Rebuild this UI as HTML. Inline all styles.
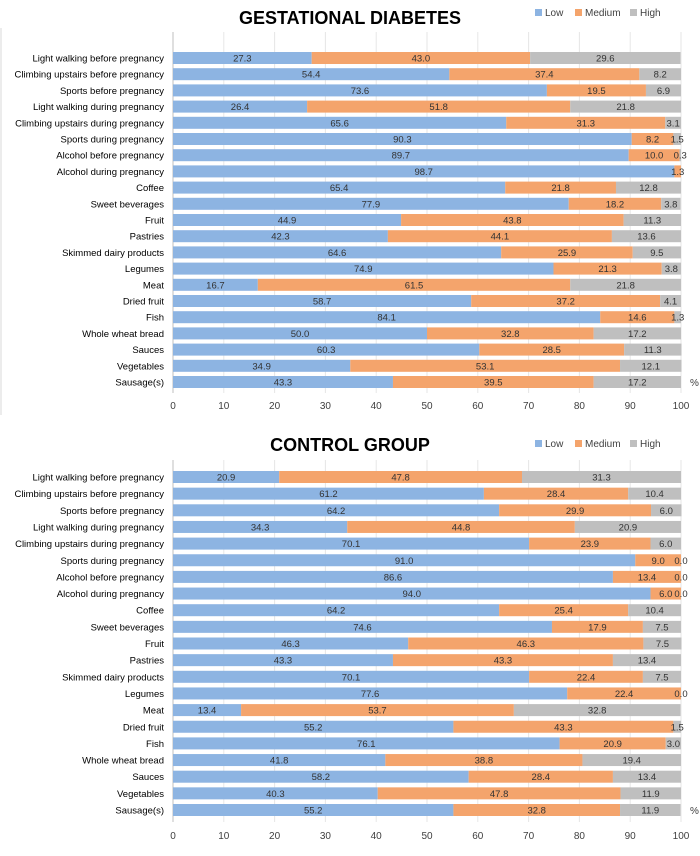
<!DOCTYPE html>
<html><head><meta charset="utf-8"><style>
body{margin:0;background:#fff;width:700px;height:851px;overflow:hidden}
svg text{font-family:"Liberation Sans",sans-serif}
</style></head><body>
<svg id="svg" width="700" height="851" xmlns="http://www.w3.org/2000/svg">
<line x1="1" y1="28" x2="1" y2="415" stroke="#d9d9d9"/>
</svg>
<script>
const categories=["Light walking before pregnancy","Climbing upstairs before pregnancy","Sports before pregnancy","Light walking during pregnancy","Climbing upstairs during pregnancy","Sports during pregnancy","Alcohol before pregnancy","Alcohol during pregnancy","Coffee","Sweet beverages","Fruit","Pastries","Skimmed dairy products","Legumes","Meat","Dried fruit","Fish","Whole wheat bread","Sauces","Vegetables","Sausage(s)"];
const gdLow=[27.3,54.4,73.6,26.4,65.6,90.3,89.7,98.7,65.4,77.9,44.9,42.3,64.6,74.9,16.7,58.7,84.1,50.0,60.3,34.9,43.3];
const gdMed=[43.0,37.4,19.5,51.8,31.3,8.2,10.0,1.3,21.8,18.2,43.8,44.1,25.9,21.3,61.5,37.2,14.6,32.8,28.5,53.1,39.5];
const gdHigh=[29.6,8.2,6.9,21.8,3.1,1.5,0.3,0.0,12.8,3.8,11.3,13.6,9.5,3.8,21.8,4.1,1.3,17.2,11.3,12.1,17.2];
const cgLow=[20.9,61.2,64.2,34.3,70.1,91.0,86.6,94.0,64.2,74.6,46.3,43.3,70.1,77.6,13.4,55.2,76.1,41.8,58.2,40.3,55.2];
const cgMed=[47.8,28.4,29.9,44.8,23.9,9.0,13.4,6.0,25.4,17.9,46.3,43.3,22.4,22.4,53.7,43.3,20.9,38.8,28.4,47.8,32.8];
const cgHigh=[31.3,10.4,6.0,20.9,6.0,0.0,0.0,0.0,10.4,7.5,7.5,13.4,7.5,0.0,32.8,1.5,3.0,19.4,13.4,11.9,11.9];
const xTicks=[0,10,20,30,40,50,60,70,80,90,100];
const seriesNames=["Low","Medium","High"];
const colors=["#8db4e2","#f4a46c","#bfbfbf"];
const svg=document.getElementById('svg');
const NS="http://www.w3.org/2000/svg";
function mk(t,a,txt){const e=document.createElementNS(NS,t);for(const k in a)e.setAttribute(k,a[k]);if(txt!==undefined)e.textContent=txt;svg.appendChild(e);return e;}
const X0=173,X1=681;
const xs=v=>X0+(X1-X0)*v/100;
function panel(title,titleY,legY,axTop,firstY,step,axBot,tickY,low,med,high,pre){
  let e=mk('text',{x:350,y:titleY,'text-anchor':'middle','font-size':'18','font-weight':'bold',fill:'#000'},title);
  
  
  let lx=[535,575,630];
  seriesNames.forEach((n,i)=>{
    let r=mk('rect',{x:lx[i],y:legY-6,width:7,height:7,fill:colors[i]});
    
    
    let t=mk('text',{x:lx[i]+10,y:legY+1,'font-size':'10',fill:'#404040'},n);
    
    
  });
  xTicks.forEach(v=>{
    if(v>0){let g=mk('line',{x1:xs(v),x2:xs(v),y1:axTop,y2:axBot,stroke:'#e6e6e6'});
    
    }
    let t=mk('text',{x:xs(v),y:tickY,'text-anchor':'middle','font-size':'10',fill:'#404040'},v);
    
    
  });
  let ax=mk('line',{x1:X0,x2:X0,y1:axTop,y2:axBot,stroke:'#bfbfbf'});
  
  
  let pc=mk('text',{x:690,y:firstY+step*20+4,'font-size':'10',fill:'#404040'},'%');
  
  
  categories.forEach((c,i)=>{
    const cy=firstY+step*i;
    let l=mk('text',{x:164,y:cy+3.5,'text-anchor':'end','font-size':'9.5',fill:'#000'},c);
    
    
    const vals=[low[i],med[i],high[i]];
    let acc=0;
    vals.forEach((v,k)=>{
      const x=xs(acc),w=xs(acc+v)-xs(acc);
      let r=mk('rect',{x:x,y:cy-6,width:Math.max(w,0),height:12,fill:colors[k]});
      
      
      if(!(k==2&&v===0&&pre==='gd')){
        let t=mk('text',{x:x+w/2,y:cy+3.5,'text-anchor':'middle','font-size':'9.5',fill:'#333'},v.toFixed(1));
        
        
      }
      acc+=v;
    });
  });
}
panel('GESTATIONAL DIABETES',24,15,32,58,16.2,393,409,gdLow,gdMed,gdHigh,'gd');
panel('CONTROL GROUP',451,446,460,477,16.65,822,839,cgLow,cgMed,cgHigh,'cg');
</script>
</body></html>
